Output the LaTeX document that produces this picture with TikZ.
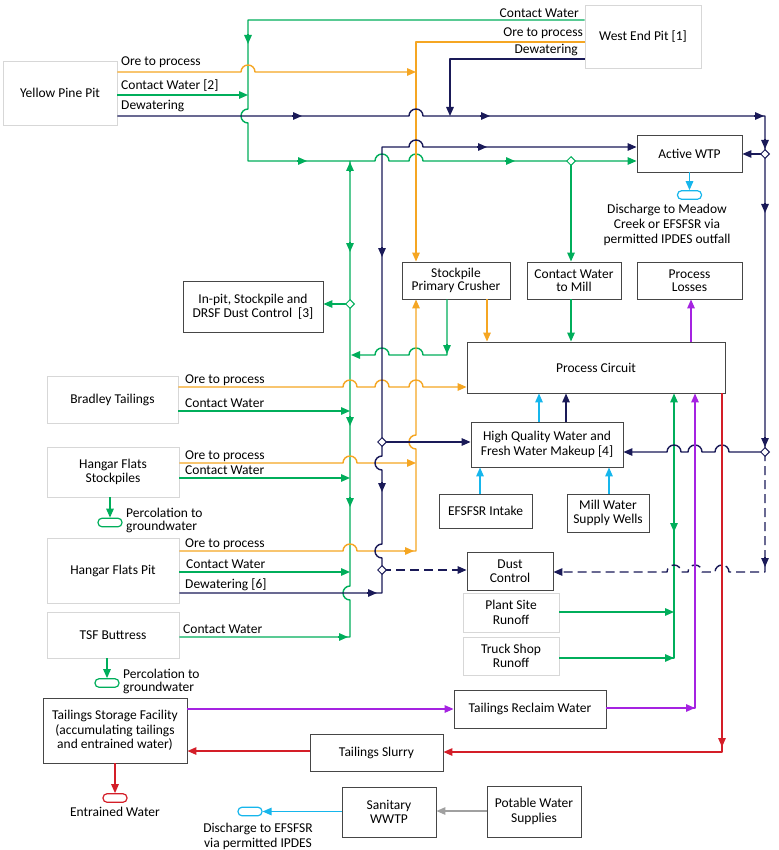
\documentclass[tikz,border=0pt]{standalone}
\usepackage{fontspec}
\setmainfont{Carlito}
\usetikzlibrary{arrows.meta,shapes.geometric}
\definecolor{corange}{RGB}{245,166,35}
\definecolor{cgreen}{RGB}{0,174,91}
\definecolor{cnavy}{RGB}{26,26,88}
\definecolor{cpurple}{RGB}{165,35,225}
\definecolor{cred}{RGB}{212,30,40}
\definecolor{ccyan}{RGB}{22,182,236}
\definecolor{cgray}{RGB}{160,160,160}
\definecolor{boxdark}{RGB}{70,70,70}
\definecolor{boxlight}{RGB}{215,215,215}
\newcommand{\tipat}[3]{\draw[ln,#1,arr] (#2) -- (#3);}
\begin{document}
\begin{tikzpicture}[x=1pt,y=1pt,
  every node/.style={font=\fontsize{13.5}{14.5}\selectfont},
  box/.style={draw=boxdark,line width=0.9pt,fill=white,align=center,inner sep=1pt},
  lbox/.style={box,draw=boxlight},
  sz/.style 2 args={minimum width=#1pt,minimum height=#2pt},
  pill/.style={draw=#1,rounded corners=4pt,line width=1.2pt,fill=white,inner sep=0pt,minimum width=24pt,minimum height=8.5pt},
  lbl/.style={inner sep=0pt},
  dmd/.style={diamond,draw=#1,fill=white,inner sep=0pt,minimum size=9pt,line width=1pt},
  ln/.style={line width=1.4pt,line join=round},
  arr/.style={-{Triangle[length=9pt,width=7.5pt]}},
]
\fill[white] (0,0) rectangle (778,-850);
\useasboundingbox (0,0) rectangle (778,-850);

% ---------- boxes ----------
\node[lbox,sz={114}{64}] (ypp) at (60,-93) {Yellow Pine Pit};
\node[lbox,sz={116}{63}] (wep) at (643,-36.5) {West End Pit [1]};
\node[box,sz={105}{37}] (awtp) at (689.5,-153.5) {Active WTP};
\node[box,sz={108}{37},font=\fontsize{13.5}{13}\selectfont] (spc) at (456,-280.5) {Stockpile\\Primary Crusher};
\node[box,sz={94}{37},font=\fontsize{13.5}{13}\selectfont] (cwm) at (574,-280.5) {Contact Water\\to Mill};
\node[box,sz={105}{37},font=\fontsize{13.5}{13}\selectfont] (pl) at (689.5,-280.5) {Process\\Losses};
\node[box,sz={258}{51}] (pc) at (596,-367.5) {Process Circuit};
\node[box,sz={140}{51}] (dust3) at (253,-306.5) {In-pit, Stockpile and\\DRSF Dust Control~~[3]};
\node[lbox,sz={131}{47}] (brad) at (112.5,-399.5) {Bradley Tailings};
\node[box,sz={152}{45},font=\fontsize{13.5}{15.5}\selectfont] (hq) at (547,-444.5) {High Quality Water and\\Fresh Water Makeup [4]};
\node[box,sz={93}{34}] (efi) at (485.5,-511) {EFSFSR Intake};
\node[box,sz={82}{38}] (mws) at (608,-513) {Mill Water\\Supply Wells};
\node[box,sz={86}{38}] (dc) at (510,-571) {Dust\\Control};
\node[lbox,sz={132}{50}] (hfs) at (113,-472) {Hangar Flats\\Stockpiles};
\node[lbox,sz={132}{65}] (hfp) at (113,-570.5) {Hangar Flats Pit};
\node[lbox,sz={132}{46}] (tsfb) at (113,-635) {TSF Buttress};
\node[box,sz={144}{65}] (tsf) at (115,-730.5) {Tailings Storage Facility\\(accumulating tailings\\and entrained water)};
\node[box,sz={133}{37}] (ts) at (376.5,-752.5) {Tailings Slurry};
\node[box,sz={152}{38}] (trw) at (530,-709) {Tailings Reclaim Water};
\node[box,sz={94}{50}] (sww) at (389,-812) {Sanitary\\WWTP};
\node[box,sz={94}{51}] (pws) at (534,-811.5) {Potable Water\\Supplies};
\node[lbox,sz={96}{39}] (psr) at (511,-612.5) {Plant Site\\Runoff};
\node[lbox,sz={96}{38}] (tsr) at (511,-656) {Truck Shop\\Runoff};

% ---------- pills and their texts ----------
\node[pill=ccyan] (p1) at (689.5,-195) {};
\node[pill=cgreen] (p2) at (110,-522.5) {};
\node[pill=cgreen] (p3) at (107,-683) {};
\node[pill=cred] (p4) at (115,-798) {};
\node[pill=ccyan] (p5) at (250,-811.5) {};
\node[lbl,align=center,font=\fontsize{13.5}{15}\selectfont] (t1) at (667,-225) {Discharge to Meadow\\Creek or EFSFSR via\\permitted IPDES outfall};
\node[lbl,align=left,anchor=west,font=\fontsize{13.5}{13}\selectfont] (t2) at (126,-520) {Percolation to\\groundwater};
\node[lbl,align=left,anchor=west,font=\fontsize{13.5}{13}\selectfont] (t3) at (123,-681) {Percolation to\\groundwater};
\node[lbl] (t4) at (115,-812) {Entrained Water};
\node[lbl,align=center,font=\fontsize{13.5}{15}\selectfont] (t5) at (258,-836) {Discharge to EFSFSR\\via permitted IPDES};

% ---------- line labels ----------
\node[lbl,anchor=base west] (l1) at (121,-66) {Ore to process};
\node[lbl,anchor=base west] (l2) at (121,-90) {Contact Water [2]};
\node[lbl,anchor=base west] (l3) at (121,-110) {Dewatering};
\node[lbl,anchor=base east] (l4) at (579,-18) {Contact Water};
\node[lbl,anchor=base east] (l5) at (583,-37) {Ore to process};
\node[lbl,anchor=base east] (l6) at (578,-54) {Dewatering};
\node[lbl,anchor=base west] (l7) at (185,-383) {Ore to process};
\node[lbl,anchor=base west] (l8) at (185,-407) {Contact Water};
\node[lbl,anchor=base west] (l9) at (185,-459) {Ore to process};
\node[lbl,anchor=base west] (l10) at (185,-474) {Contact Water};
\node[lbl,anchor=base west] (l11) at (185,-547) {Ore to process};
\node[lbl,anchor=base west] (l12) at (186,-568) {Contact Water};
\node[lbl,anchor=base west] (l13) at (185,-588) {Dewatering [6]};
\node[lbl,anchor=base west] (l14) at (183,-633) {Contact Water};

% ---------- junction points ----------
\coordinate (dg1) at (571,-161);
\coordinate (dg2) at (350,-304);
\coordinate (dn1) at (765,-154);
\coordinate (dn2) at (382,-442);
\coordinate (dn3) at (382,-570);
\coordinate (dn4) at (765,-452);

% ---------- green lines ----------
\draw[ln,cgreen,arr] (wep.west |- 0,-20) -- (248,-20) -- (248,-109)
  arc[start angle=90,end angle=270,radius=7] -- (248,-161) -- (375,-161)
  arc[start angle=180,end angle=0,radius=7] -- (409,-161)
  arc[start angle=180,end angle=0,radius=7] -- (awtp.west |- 0,-161);
\tipat{cgreen}{248,-34}{248,-44}
\tipat{cgreen}{297,-161}{307,-161}
\tipat{cgreen}{505,-161}{515,-161}
\draw[ln,cgreen,arr] (ypp.east |- 0,-95) -- (248,-95);
\draw[ln,cgreen,arr] (dg1) -- (cwm.north -| dg1);
\draw[ln,cgreen,arr] (cwm.south -| dg1) -- (pc.north -| dg1);

\draw[ln,cgreen] (tsfb.east |- 0,-637) -- (350,-637) -- (350,-600)
  arc[start angle=270,end angle=90,radius=7] -- (350,-161);
\tipat{cgreen}{338,-637}{348,-637}
\tipat{cgreen}{350,-497}{350,-507}
\tipat{cgreen}{350,-416}{350,-426}
\tipat{cgreen}{350,-242}{350,-252}
\tipat{cgreen}{350,-172}{350,-162}
\draw[ln,cgreen,arr] (brad.east |- 0,-411) -- (350,-411);
\draw[ln,cgreen,arr] (hfs.east |- 0,-478) -- (350,-478);
\draw[ln,cgreen,arr] (hfp.east |- 0,-572) -- (350,-572);
\draw[ln,cgreen,arr] (dg2) -- (dust3.east |- dg2);
\draw[ln,cgreen,arr] (spc.south -| 447,0) -- (447,-355) -- (423,-355)
  arc[start angle=0,end angle=180,radius=7] -- (389,-355)
  arc[start angle=0,end angle=180,radius=7] -- (351,-355);
\tipat{cgreen}{447,-344}{447,-354}
\draw[ln,cgreen,arr] (psr.east |- 0,-612) -- (674,-612);
\draw[ln,cgreen,arr] (tsr.east |- 0,-658) -- (674,-658) -- (pc.south -| 674,0);
\tipat{cgreen}{664,-658}{674,-658}
\tipat{cgreen}{674,-522}{674,-532}

% ---------- orange lines ----------
\draw[ln,corange,arr] (ypp.east |- 0,-72) -- (241,-72)
  arc[start angle=180,end angle=0,radius=7] -- (416,-72);
\draw[ln,corange,arr] (wep.west |- 0,-42) -- (416,-42) -- (spc.north -| 416,0);
\draw[ln,corange,arr] (brad.east |- 0,-387) -- (343,-387)
  arc[start angle=180,end angle=0,radius=7] -- (375,-387)
  arc[start angle=180,end angle=0,radius=7] -- (409,-387)
  arc[start angle=180,end angle=0,radius=7] -- (pc.west |- 0,-387);
\draw[ln,corange,arr] (hfs.east |- 0,-463) -- (343,-463)
  arc[start angle=180,end angle=0,radius=7] -- (416,-463);
\draw[ln,corange,arr] (hfp.east |- 0,-551) -- (343,-551)
  arc[start angle=180,end angle=0,radius=7] -- (416,-551) -- (416,-449)
  arc[start angle=270,end angle=90,radius=7] -- (spc.south -| 416,0);
\tipat{corange}{404,-551}{414,-551}
\draw[ln,corange,arr] (spc.south -| 487,0) -- (pc.north -| 487,0);

% ---------- navy lines ----------
\draw[ln,cnavy] (ypp.east |- 0,-116) -- (409,-116)
  arc[start angle=180,end angle=0,radius=7] -- (765,-116) -- (dn4);
\tipat{cnavy}{292,-116}{302,-116}
\tipat{cnavy}{480,-116}{490,-116}
\tipat{cnavy}{754,-116}{764,-116}
\tipat{cnavy}{765,-139}{765,-149}
\tipat{cnavy}{765,-203}{765,-213}
\tipat{cnavy}{765,-437}{765,-447}
\draw[ln,cnavy,arr] (wep.west |- 0,-59) -- (450,-59) -- (450,-116);
\draw[ln,cnavy,arr] (dn1) -- (awtp.east |- dn1);
\draw[ln,cnavy,arr] (hfp.east |- 0,-593) -- (382,-593) -- (382,-558)
  arc[start angle=270,end angle=90,radius=7] -- (382,-470)
  arc[start angle=270,end angle=90,radius=7] -- (382,-147) -- (409,-147)
  arc[start angle=180,end angle=0,radius=7] -- (awtp.west |- 0,-147);
\tipat{cnavy}{367,-593}{377,-593}
\tipat{cnavy}{382,-482}{382,-492}
\tipat{cnavy}{382,-247}{382,-257}
\tipat{cnavy}{477,-147}{487,-147}
\draw[ln,cnavy,arr] (dn2) -- (hq.west |- dn2);
\draw[ln,cnavy,dash pattern=on 9pt off 5pt,arr] (dn3) -- (dc.west |- dn3);
\draw[ln,cnavy,arr] (dn4) -- (729,-452)
  arc[start angle=0,end angle=180,radius=7] -- (702,-452)
  arc[start angle=0,end angle=180,radius=7] -- (681,-452)
  arc[start angle=0,end angle=180,radius=7] -- (hq.east |- dn4);
\draw[ln,cnavy,dash pattern=on 9pt off 5pt,arr] (dn4) -- (765,-572) -- (729,-572)
  arc[start angle=0,end angle=180,radius=7] -- (702,-572)
  arc[start angle=0,end angle=180,radius=7] -- (681,-572)
  arc[start angle=0,end angle=180,radius=7] -- (dc.east |- 0,-572);
\tipat{cnavy}{765,-557}{765,-567}
\draw[ln,cnavy,arr] (hq.north -| 566,0) -- (pc.south -| 566,0);

% ---------- other lines ----------
\draw[ln,ccyan,arr] (hq.north -| 539,0) -- (pc.south -| 539,0);
\draw[ln,ccyan,arr] (efi.north -| 480,0) -- (hq.south -| 480,0);
\draw[ln,ccyan,arr] (mws.north -| 609,0) -- (hq.south -| 609,0);
\draw[ln,ccyan,arr] (awtp.south) -- (p1.north);
\draw[ln,ccyan,arr] (sww.west |- p5) -- (p5.east);
\draw[ln,cpurple,arr] (pc.north -| 691,0) -- (pl.south -| 691,0);
\draw[ln,cpurple,arr] (tsf.east |- 0,-709) -- (trw.west |- 0,-709);
\draw[ln,cpurple,arr] (trw.east |- 0,-708) -- (695,-708) -- (pc.south -| 695,0);
\tipat{cpurple}{685,-708}{695,-708}
\draw[ln,cred,arr] (pc.south -| 722,0) -- (722,-752) -- (ts.east |- 0,-752);
\tipat{cred}{722,-737}{722,-747}
\draw[ln,cred,arr] (ts.west |- 0,-751) -- (tsf.east |- 0,-751);
\draw[ln,cgray,arr] (pws.west |- 0,-811) -- (sww.east |- 0,-811);
\draw[ln,cgreen,arr] (hfs.south -| p2) -- (p2.north);
\draw[ln,cgreen,arr] (tsfb.south -| p3) -- (p3.north);
\draw[ln,cred,arr] (tsf.south -| p4) -- (p4.north);

% ---------- junction diamonds ----------
\node[dmd=cgreen] (dg1n) at (dg1) {};
\node[dmd=cgreen] (dg2n) at (dg2) {};
\node[dmd=cnavy] (dn1n) at (dn1) {};
\node[dmd=cnavy] (dn2n) at (dn2) {};
\node[dmd=cnavy] (dn3n) at (dn3) {};
\node[dmd=cnavy] (dn4n) at (dn4) {};
\end{tikzpicture}
\end{document}
